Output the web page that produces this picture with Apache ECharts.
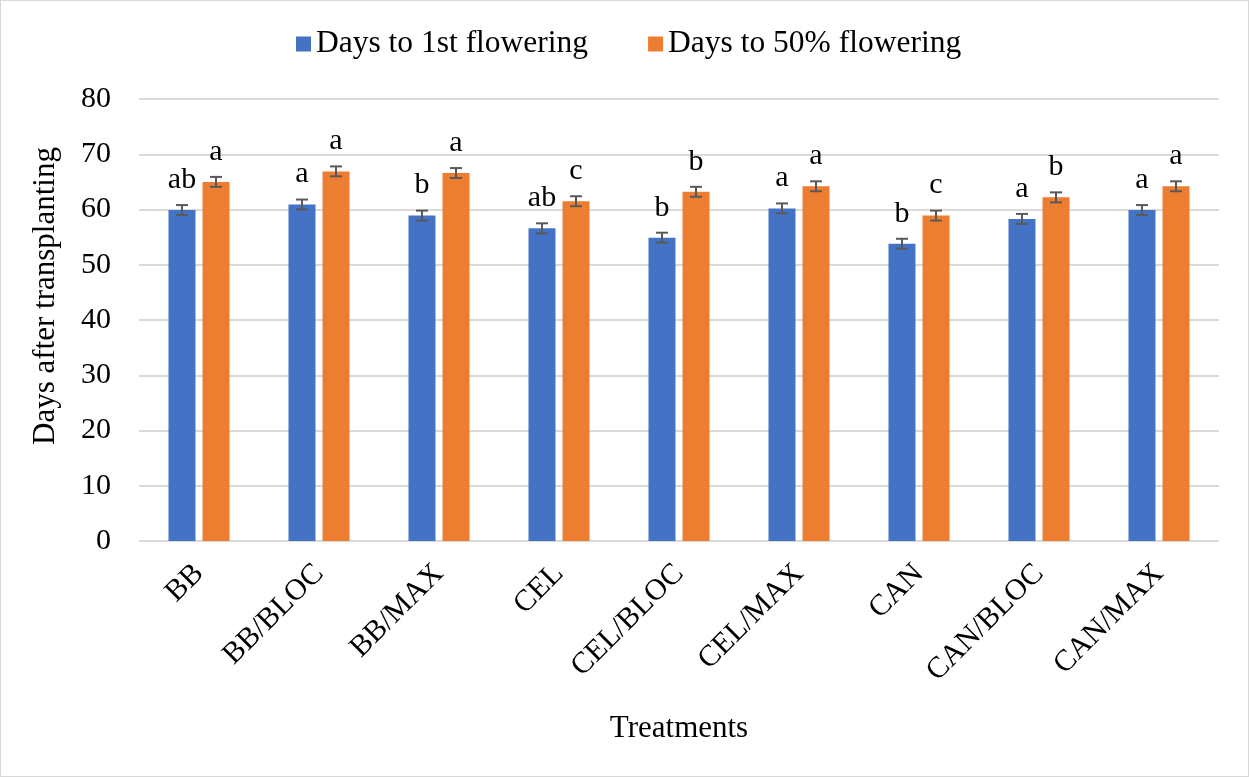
<!DOCTYPE html>
<html>
<head>
<meta charset="utf-8">
<script src="https://cdn.jsdelivr.net/npm/echarts@6/dist/echarts.min.js"></script>
<style>
html,body{margin:0;padding:0;background:#fff;}
#chart{width:1247px;height:775px;border:1px solid #d9d9d9;}
</style>
</head>
<body>
<div id="chart"></div>
<script>
const categories = ['BB','BB/BLOC','BB/MAX','CEL','CEL/BLOC','CEL/MAX','CAN','CAN/BLOC','CAN/MAX'];
const firstFlowering = [59.9, 60.9, 58.9, 56.6, 54.9, 60.2, 53.8, 58.3, 59.9];
const fiftyFlowering = [65.0, 66.9, 66.6, 61.5, 63.2, 64.2, 58.9, 62.2, 64.2];
const firstErr = [0.9, 0.9, 0.9, 0.9, 0.9, 0.9, 0.9, 0.9, 0.9];
const fiftyErr = [0.9, 0.9, 0.9, 0.9, 0.9, 0.9, 0.9, 0.9, 0.9];
const firstLetters = ['ab','a','b','ab','b','a','b','a','a'];
const fiftyLetters = ['a','a','a','c','b','a','c','b','a'];
const seriesNames = ['Days to 1st flowering','Days to 50% flowering'];
const yTicks = [0,10,20,30,40,50,60,70,80];

const FONT = '"Liberation Serif", "Times New Roman", serif';
const BAR_W = 0.225;   // fraction of category
const GAP = 0.26;      // fraction of bar width

function errSeries(values, errs, side) {
  return {
    type: 'custom',
    z: 5,
    silent: true,
    data: values.map((v, i) => [i, v, errs[i]]),
    renderItem: function (params, api) {
      const i = api.value(0), v = api.value(1), e = api.value(2);
      const catW = api.size([1, 0])[0];
      const bw = catW * BAR_W;
      const off = side * (bw + bw * GAP) / 2;
      const hi = api.coord([i, v + e]);
      const lo = api.coord([i, v - e]);
      const x = hi[0] + off;
      const cap = 6;
      const style = { stroke: '#595959', lineWidth: 2 };
      return {
        type: 'group',
        children: [
          { type: 'line', shape: { x1: x, y1: hi[1], x2: x, y2: lo[1] }, style },
          { type: 'line', shape: { x1: x - cap, y1: hi[1], x2: x + cap, y2: hi[1] }, style },
          { type: 'line', shape: { x1: x - cap, y1: lo[1], x2: x + cap, y2: lo[1] }, style }
        ]
      };
    }
  };
}

const chart = echarts.init(document.getElementById('chart'), null, { renderer: 'canvas' });
chart.setOption({
  animation: false,
  textStyle: { fontFamily: FONT, color: '#000' },
  legend: {
    top: 22,
    left: 290,
    icon: 'rect',
    itemWidth: 15,
    itemHeight: 15,
    itemGap: 60,
    textStyle: { fontFamily: FONT, fontSize: 31.5, color: '#000' },
    data: seriesNames
  },
  grid: { left: 138, right: 29, top: 98, bottom: 235, containLabel: false },
  xAxis: {
    type: 'category',
    data: categories,
    axisLine: { show: false },
    axisTick: { show: false },
    axisLabel: { rotate: 45, fontFamily: FONT, fontSize: 30, color: '#000', margin: 28, interval: 0 },
    name: 'Treatments',
    nameLocation: 'middle',
    nameGap: 172,
    nameTextStyle: { fontFamily: FONT, fontSize: 31, color: '#000' }
  },
  yAxis: {
    type: 'value',
    min: yTicks[0],
    max: yTicks[yTicks.length - 1],
    interval: 10,
    axisLine: { show: false },
    axisTick: { show: false },
    axisLabel: { fontFamily: FONT, fontSize: 30, color: '#000', margin: 28 },
    splitLine: { lineStyle: { color: '#d9d9d9', width: 2 } },
    name: 'Days after transplanting',
    nameLocation: 'middle',
    nameGap: 78,
    nameTextStyle: { fontFamily: FONT, fontSize: 31, color: '#000', padding: [0, 0, 0, 48] }
  },
  series: [
    {
      name: seriesNames[0],
      type: 'bar',
      data: firstFlowering,
      barWidth: (BAR_W * 100) + '%',
      barGap: (GAP * 100) + '%',
      itemStyle: { color: '#4472C4' },
      label: {
        show: true, position: 'top', distance: 15,
        fontFamily: FONT, fontSize: 30, color: '#000',
        formatter: p => firstLetters[p.dataIndex]
      }
    },
    {
      name: seriesNames[1],
      type: 'bar',
      data: fiftyFlowering,
      barWidth: (BAR_W * 100) + '%',
      itemStyle: { color: '#ED7D31' },
      label: {
        show: true, position: 'top', distance: 15,
        fontFamily: FONT, fontSize: 30, color: '#000',
        formatter: p => fiftyLetters[p.dataIndex]
      }
    },
    errSeries(firstFlowering, firstErr, -1),
    errSeries(fiftyFlowering, fiftyErr, 1)
  ]
});
</script>
</body>
</html>
